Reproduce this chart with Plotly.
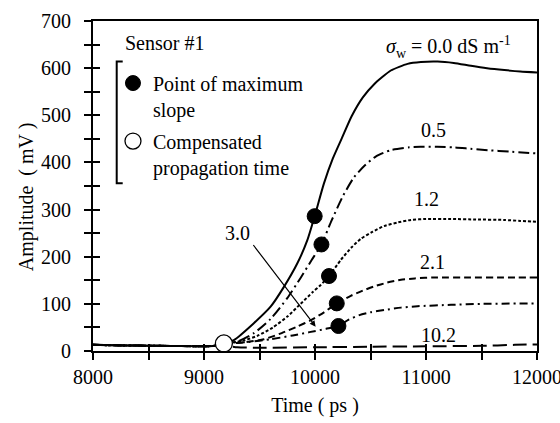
import plotly.graph_objects as go

FONT = "Liberation Serif, Times New Roman, serif"
FS = 20

# ---- data ----
t_00 = [8000, 8200, 8400, 8600, 8800, 9000, 9100, 9180, 9269, 9449, 9600, 9720, 9841, 9931, 9997,
        10080, 10160, 10243, 10330, 10431, 10533, 10683, 10834, 10954, 11105, 11250, 11405, 11550,
        11706, 11850, 12000]
a_00 = [13, 12, 11.5, 11, 10.5, 10, 11, 15, 23, 59, 94, 136, 186, 235, 286,
        355, 408, 452, 498, 538, 566, 595, 609, 613, 614, 611, 605, 600,
        596, 593, 591]

t_05 = [8000, 8200, 8400, 8600, 8800, 9000, 9100, 9180, 9300, 9450, 9600, 9750, 9870, 9970, 10058,
        10150, 10250, 10350, 10450, 10550, 10683, 10850, 10950, 11100, 11255, 11400, 11556, 11750, 12000]
a_05 = [13, 12, 11.5, 11, 10.5, 10, 11, 15, 20, 38, 68, 112, 155, 193, 226,
        277, 328, 368, 394, 413, 426, 432, 433, 433, 432, 429, 426, 423, 419]

t_12 = [8000, 8200, 8400, 8600, 8800, 9000, 9100, 9180, 9350, 9480, 9620, 9751, 9870, 9980, 10051,
        10126, 10232, 10330, 10413, 10520, 10623, 10750, 10864, 11000, 11225, 11450, 11706, 11850, 12000]
a_12 = [13, 12, 11.5, 11, 10.5, 10, 11, 15, 22, 32, 50, 73, 100, 125, 140,
        159, 193, 220, 238, 253, 265, 273, 278, 280, 280, 279, 278, 276, 274]

t_21 = [8000, 8200, 8400, 8600, 8800, 9000, 9100, 9180, 9350, 9540, 9700, 9841, 9960, 10081, 10196,
        10322, 10430, 10533, 10650, 10774, 10900, 11075, 11400, 11700, 12000]
a_21 = [13, 12, 11.5, 11, 10.5, 10, 11, 15, 18, 25, 38, 52, 65, 82, 101,
        117, 128, 137, 145, 151, 154, 156, 156, 156, 156]

t_30 = [8000, 8200, 8400, 8600, 8800, 9000, 9100, 9180, 9400, 9600, 9800, 9950, 10100, 10211,
        10300, 10400, 10500, 10623, 10774, 10924, 11225, 11500, 12000]
a_30 = [13, 12, 11.5, 11, 10.5, 10, 11, 15, 19, 25, 33, 40, 47, 53,
        66, 76, 82, 87, 92, 95, 98, 100, 101]

t_102 = [8000, 8200, 8400, 8600, 8800, 9000, 9100, 9180, 9300, 9500, 10000, 10500, 11000, 11500, 11800, 12000]
a_102 = [13, 12, 11.5, 11, 10.5, 10, 11, 12, 8, 7, 8, 9, 10, 11, 13, 14]

slope_t = [9997, 10058, 10126, 10196, 10211]
slope_a = [286, 226, 159, 101, 53]

comp_t = [9179]
comp_a = [16]

curve_labels = ["0.5", "1.2", "2.1", "3.0", "10.2"]
label_t = [11071, 11000, 11060, 9300, 11117]
label_a = [469, 322, 189, 250, 35]

x_ticks = [8000, 9000, 10000, 11000, 12000]
y_ticks = [0, 100, 200, 300, 400, 500, 600, 700]

# ---- figure ----
fig = go.Figure()

series = [
    (t_00, a_00, "solid"),
    (t_05, a_05, "11px,4px,2px,4px"),
    (t_12, a_12, "3px,2px"),
    (t_21, a_21, "7px,4px"),
    (t_30, a_30, "8px,4px,2px,4px"),
    (t_102, a_102, "14px,6px"),
]
for t, a, dash in series:
    fig.add_trace(go.Scatter(x=t, y=a, mode="lines",
                             line=dict(color="black", width=2, dash=dash, shape="spline", smoothing=0.6),
                             showlegend=False, hoverinfo="skip"))

fig.add_trace(go.Scatter(x=slope_t, y=slope_a, mode="markers", name="Point of maximum<br>slope",
                         legendgroup="a",
                         marker=dict(color="black", size=15, line=dict(color="black", width=1))))
fig.add_trace(go.Scatter(x=comp_t, y=comp_a, mode="markers", name="Compensated<br>propagation time",
                         legendgroup="b",
                         marker=dict(color="white", size=17, line=dict(color="black", width=1.3))))

# dummy trace for overlay axes (inside half of the crossing ticks)
fig.add_trace(go.Scatter(x=[None], y=[None], xaxis="x2", yaxis="y2", showlegend=False, hoverinfo="skip"))

axis_common = dict(showgrid=False, zeroline=False, linecolor="black", linewidth=2,
                   tickcolor="black", tickwidth=2, ticklen=7, automargin=False,
                   tickfont=dict(family=FONT, size=FS, color="black"),
                   exponentformat="none", separatethousands=False, tickformat="d")

fig.update_layout(
    width=560, height=423,
    margin=dict(l=93, r=23, t=21, b=72, autoexpand=False),
    paper_bgcolor="white", plot_bgcolor="white",
    font=dict(family=FONT, size=FS, color="black"),
    xaxis=dict(range=[8000, 12000], tickvals=x_ticks, ticks="outside", showline=True, mirror=True,
               minor=dict(dtick=500, ticks="outside", ticklen=7, tickwidth=2, tickcolor="black"),
               ticklabelstandoff=0, ticklabeloverflow="allow",
               title=dict(text="Time ( ps )", standoff=11, font=dict(family=FONT, size=FS)),
               **axis_common),
    yaxis=dict(range=[0, 700], tickvals=y_ticks, ticks="outside", showline=True, mirror=True,
               minor=dict(dtick=50, ticks="outside", ticklen=7, tickwidth=2, tickcolor="black"),
               ticklabelstandoff=9, **axis_common),
    xaxis2=dict(range=[8000, 12000], overlaying="x", anchor="y2", side="bottom", tickvals=x_ticks,
                ticks="inside", showticklabels=False, showline=False,
                minor=dict(dtick=500, ticks="inside", ticklen=7, tickwidth=2, tickcolor="black"),
                **axis_common),
    yaxis2=dict(range=[0, 700], overlaying="y", anchor="x2", side="left", tickvals=y_ticks,
                ticks="inside", showticklabels=False, showline=False,
                minor=dict(dtick=50, ticks="inside", ticklen=7, tickwidth=2, tickcolor="black"),
                **axis_common),
    showlegend=True,
    legend=dict(x=0.045, y=0.871, xanchor="left", yanchor="top", bgcolor="rgba(0,0,0,0)",
                font=dict(family=FONT, size=FS), valign="top", tracegroupgap=3,
                itemclick=False, itemdoubleclick=False),
)

# y axis title as rotated annotation
fig.add_annotation(text="Amplitude\u2002( mV )", xref="paper", yref="paper", x=-0.148, y=0.467,
                   xanchor="center", yanchor="middle",
                   textangle=-90, showarrow=False, font=dict(family=FONT, size=FS))

fig.add_annotation(text="Sensor #1", xref="paper", yref="paper", x=0.068, y=0.933,
                   xanchor="left", yanchor="middle", showarrow=False, font=dict(family=FONT, size=FS))

fig.add_annotation(text="<i>σ</i><sub>w</sub> = 0.0 dS m<sup>-1</sup>", x=11202, y=645,
                   showarrow=False, font=dict(family=FONT, size=FS))

for lab, t, a in zip(curve_labels, label_t, label_a):
    fig.add_annotation(text=lab, x=t, y=a, showarrow=False, font=dict(family=FONT, size=FS))

# arrow for 3.0
fig.add_annotation(x=10006, y=51.5, ax=9434, ay=228, axref="x", ayref="y", text="",
                   showarrow=True, arrowhead=2, arrowsize=1, arrowwidth=1.2, arrowcolor="black")

# bracket next to legend
fig.add_shape(type="path", xref="paper", yref="paper",
              path="M 0.0669 0.877 L 0.0534 0.877 L 0.0534 0.508 L 0.0669 0.508",
              line=dict(color="black", width=2))

fig.write_html("out.html")
